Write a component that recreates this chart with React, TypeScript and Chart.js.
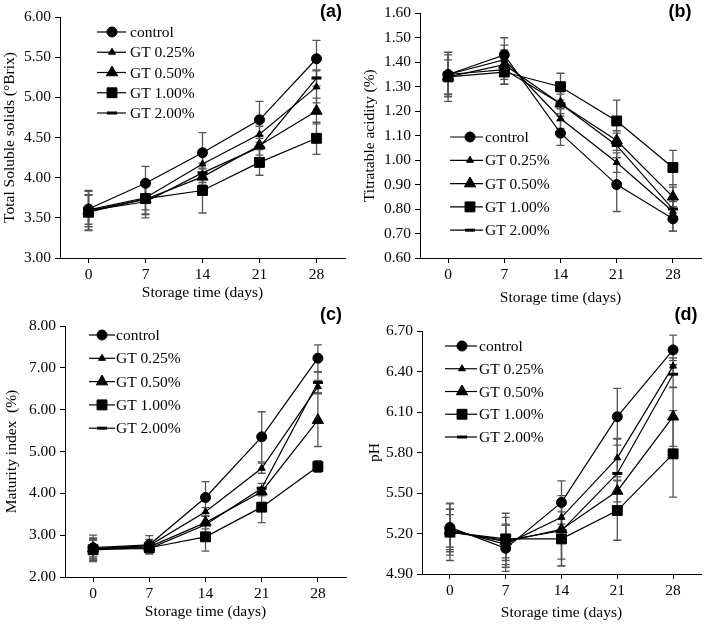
import React, { useEffect, useRef } from 'react';
import { Chart, registerables } from 'chart.js';
import { drawPoint } from 'chart.js/helpers';

Chart.register(...registerables);

// ---------- data ----------
const days = ['0', '7', '14', '21', '28'];
const seriesNames = ['control', 'GT 0.25%', 'GT 0.50%', 'GT 1.00%', 'GT 2.00%'];

// (a) Total soluble solids
const tssControl = [3.61, 3.93, 4.31, 4.72, 5.48];
const tssGT025 = [3.60, 3.75, 4.17, 4.54, 5.13];
const tssGT050 = [3.59, 3.73, 4.01, 4.40, 4.83];
const tssGT100 = [3.57, 3.74, 3.84, 4.19, 4.49];
const tssGT200 = [3.59, 3.70, 4.06, 4.38, 5.24];
const tssErrControl = [0.22, 0.21, 0.25, 0.23, 0.23];
const tssErrGT025 = [0.18, 0.15, 0.12, 0.10, 0.20];
const tssErrGT050 = [0.20, 0.18, 0.10, 0.12, 0.16];
const tssErrGT100 = [0.22, 0.20, 0.28, 0.16, 0.20];
const tssErrGT200 = [0.25, 0.20, 0.12, 0.14, 0.10];

// (b) Titratable acidity
const taControl = [1.35, 1.43, 1.11, 0.90, 0.76];
const taGT025 = [1.35, 1.41, 1.17, 0.99, 0.79];
const taGT050 = [1.34, 1.39, 1.23, 1.08, 0.85];
const taGT100 = [1.34, 1.36, 1.30, 1.16, 0.97];
const taGT200 = [1.35, 1.37, 1.23, 1.06, 0.80];
const taErrControl = [0.09, 0.07, 0.05, 0.11, 0.05];
const taErrGT025 = [0.08, 0.06, 0.04, 0.04, 0.04];
const taErrGT050 = [0.07, 0.06, 0.05, 0.04, 0.05];
const taErrGT100 = [0.10, 0.05, 0.055, 0.085, 0.07];
const taErrGT200 = [0.09, 0.06, 0.04, 0.05, 0.09];

// (c) Maturity index
const miControl = [2.70, 2.77, 3.90, 5.35, 7.23];
const miGT025 = [2.68, 2.75, 3.56, 4.60, 6.55];
const miGT050 = [2.68, 2.72, 3.30, 4.04, 5.75];
const miGT100 = [2.65, 2.70, 2.96, 3.67, 4.64];
const miGT200 = [2.67, 2.68, 3.25, 4.12, 6.65];
const miErrControl = [0.30, 0.22, 0.38, 0.60, 0.32];
const miErrGT025 = [0.25, 0.15, 0.10, 0.12, 0.15];
const miErrGT050 = [0.20, 0.12, 0.15, 0.10, 0.63];
const miErrGT100 = [0.28, 0.12, 0.34, 0.37, 0.14];
const miErrGT200 = [0.22, 0.10, 0.20, 0.12, 0.25];

// (d) pH
const phControl = [5.245, 5.09, 5.43, 6.065, 6.56];
const phGT025 = [5.23, 5.12, 5.32, 5.76, 6.44];
const phGT050 = [5.22, 5.14, 5.23, 5.515, 6.065];
const phGT100 = [5.21, 5.16, 5.16, 5.37, 5.79];
const phGT200 = [5.21, 5.15, 5.22, 5.645, 6.38];
const phErrControl = [0.18, 0.17, 0.16, 0.21, 0.11];
const phErrGT025 = [0.15, 0.15, 0.10, 0.14, 0.06];
const phErrGT050 = [0.12, 0.12, 0.22, 0.08, 0.22];
const phErrGT100 = [0.17, 0.16, 0.20, 0.22, 0.32];
const phErrGT200 = [0.21, 0.20, 0.26, 0.26, 0.10];

// ---------- styles ----------
const SERIF = '"Liberation Serif", "Times New Roman", serif';
const FONT = { family: SERIF, size: 15.5 };
const markers = [
  { pointStyle: 'circle', radius: 5, borderWidth: 1 },
  { pointStyle: 'triangle', radius: 4, borderWidth: 1 },
  { pointStyle: 'triangle', radius: 6.5, borderWidth: 1 },
  { pointStyle: 'rect', radius: 7, borderWidth: 1 },
  { pointStyle: 'line', radius: 5, borderWidth: 3 },
];

type PanelCfg = {
  x: number; y: number; w: number; h: number;
  yw: number; xh: number; pad: { top: number; right: number; bottom: number; left: number };
  xTitlePb: number; yTitlePt: number;
  yMin: number; yMax: number; step: number; yTitle: string;
  values: number[][]; errors: number[][];
  legend: { x0: number; x1: number; mx: number; tx: number; y0: number; dy: number };
  tag: { text: string; x: number; y: number };
};

const panels: PanelCfg[] = [
  {
    x: 0, y: 0, w: 354, h: 305, yw: 60, xh: 47, pad: { top: 17, right: 9, bottom: 0, left: 0 },
    xTitlePb: 3, yTitlePt: 1, yMin: 3, yMax: 6, step: 0.5, yTitle: 'Total Soluble solids (°Brix)',
    values: [tssControl, tssGT025, tssGT050, tssGT100, tssGT200],
    errors: [tssErrControl, tssErrGT025, tssErrGT050, tssErrGT100, tssErrGT200],
    legend: { x0: 97, x1: 126, mx: 112, tx: 130, y0: 32, dy: 20.25 },
    tag: { text: '(a)', x: 331, y: 12 },
  },
  {
    x: 354, y: 0, w: 355, h: 312, yw: 66, xh: 54, pad: { top: 12, right: 4, bottom: 0, left: 0 },
    xTitlePb: 4.7, yTitlePt: 6.7, yMin: 0.6, yMax: 1.6, step: 0.1, yTitle: 'Titratable acidity (%)',
    values: [taControl, taGT025, taGT050, taGT100, taGT200],
    errors: [taErrControl, taErrGT025, taErrGT050, taErrGT100, taErrGT200],
    legend: { x0: 96, x1: 129, mx: 116, tx: 131, y0: 137, dy: 23.3 },
    tag: { text: '(b)', x: 326, y: 12 },
  },
  {
    x: 0, y: 305, w: 354, h: 319, yw: 65, xh: 47, pad: { top: 21, right: 8, bottom: 0, left: 0 },
    xTitlePb: 2.7, yTitlePt: 2.7, yMin: 2, yMax: 8, step: 1, yTitle: 'Maturity index  (%)',
    values: [miControl, miGT025, miGT050, miGT100, miGT200],
    errors: [miErrControl, miErrGT025, miErrGT050, miErrGT100, miErrGT200],
    legend: { x0: 89, x1: 115, mx: 102, tx: 116, y0: 30, dy: 23.3 },
    tag: { text: '(c)', x: 331, y: 10 },
  },
  {
    x: 354, y: 305, w: 355, h: 319, yw: 68, xh: 50, pad: { top: 26, right: 4, bottom: 0, left: 0 },
    xTitlePb: 1.7, yTitlePt: 11.7, yMin: 4.9, yMax: 6.7, step: 0.3, yTitle: 'pH',
    values: [phControl, phGT025, phGT050, phGT100, phGT200],
    errors: [phErrControl, phErrGT025, phErrGT050, phErrGT100, phErrGT200],
    legend: { x0: 91, x1: 123, mx: 108, tx: 125, y0: 41, dy: 22.75 },
    tag: { text: '(d)', x: 332, y: 10 },
  },
];

function Panel({ cfg }: { cfg: PanelCfg }) {
  const ref = useRef<HTMLCanvasElement>(null);
  useEffect(() => {
    if (!ref.current) return;
    const errorBars = {
      id: 'errorBars',
      beforeDatasetsDraw(chart: any) {
        const ctx = chart.ctx;
        const xs = chart.scales.x;
        const ys = chart.scales.y;
        ctx.save();
        ctx.strokeStyle = '#555';
        ctx.lineWidth = 1.3;
        cfg.values.forEach((vals, i) => {
          vals.forEach((v, j) => {
            const e = cfg.errors[i][j];
            const px = xs.getPixelForValue(j);
            const top = ys.getPixelForValue(v + e);
            const bot = ys.getPixelForValue(v - e);
            ctx.beginPath();
            ctx.moveTo(px, top); ctx.lineTo(px, bot);
            ctx.moveTo(px - 4, top); ctx.lineTo(px + 4, top);
            ctx.moveTo(px - 4, bot); ctx.lineTo(px + 4, bot);
            ctx.stroke();
          });
        });
        ctx.restore();
      },
    };
    const overlay = {
      id: 'overlay',
      afterDraw(chart: any) {
        const ctx = chart.ctx;
        ctx.save();
        const L = cfg.legend;
        seriesNames.forEach((name, i) => {
          const yy = L.y0 + i * L.dy;
          ctx.strokeStyle = '#000';
          ctx.fillStyle = '#000';
          ctx.lineWidth = 1.2;
          ctx.beginPath();
          ctx.moveTo(L.x0, yy); ctx.lineTo(L.x1, yy);
          ctx.stroke();
          const m = markers[i];
          ctx.lineWidth = m.borderWidth;
          drawPoint(ctx, { pointStyle: m.pointStyle as any, radius: m.radius, rotation: 0, borderWidth: m.borderWidth }, L.mx, yy);
          ctx.font = `15.5px ${SERIF}`;
          ctx.textAlign = 'left';
          ctx.textBaseline = 'middle';
          ctx.fillText(name, L.tx, yy + 1);
        });
        ctx.font = `bold 18px "Liberation Sans", Arial, sans-serif`;
        ctx.textAlign = 'center';
        ctx.textBaseline = 'middle';
        ctx.fillText(cfg.tag.text, cfg.tag.x, cfg.tag.y);
        ctx.restore();
      },
    };
    const chart = new Chart(ref.current, {
      type: 'line',
      data: {
        labels: days,
        datasets: cfg.values.map((vals, i) => ({
          label: seriesNames[i],
          data: vals,
          borderColor: '#000',
          backgroundColor: '#000',
          borderWidth: 1.2,
          pointStyle: markers[i].pointStyle as any,
          pointRadius: markers[i].radius,
          pointBorderWidth: markers[i].borderWidth,
          pointBackgroundColor: '#000',
          pointBorderColor: '#000',
          tension: 0,
          fill: false,
        })),
      },
      options: {
        responsive: false,
        animation: false,
        events: [],
        layout: { padding: cfg.pad },
        plugins: { legend: { display: false }, tooltip: { enabled: false } },
        scales: {
          x: {
            type: 'category',
            offset: true,
            grid: { display: true, drawOnChartArea: false, drawTicks: true, tickLength: 5, color: '#000', offset: false },
            border: { display: true, color: '#000', width: 1 },
            ticks: { font: FONT, color: '#000', padding: 3, maxRotation: 0 },
            title: { display: true, text: 'Storage time (days)', font: FONT, color: '#000', padding: { top: 0, bottom: cfg.xTitlePb } },
            afterFit: (s: any) => { s.height = cfg.xh; },
          },
          y: {
            min: cfg.yMin,
            max: cfg.yMax,
            grid: { display: true, drawOnChartArea: false, drawTicks: true, tickLength: 5, color: '#000' },
            border: { display: true, color: '#000', width: 1 },
            ticks: {
              stepSize: cfg.step,
              font: FONT,
              color: '#000',
              padding: 4,
              callback: (v: any) => Number(v).toFixed(2),
            },
            title: { display: true, text: cfg.yTitle, font: FONT, color: '#000', padding: { top: cfg.yTitlePt, bottom: 0 } },
            afterFit: (s: any) => { s.width = cfg.yw; },
          },
        },
      },
      plugins: [errorBars, overlay],
    } as any);
    return () => chart.destroy();
  }, [cfg]);
  return (
    <canvas
      ref={ref}
      width={cfg.w}
      height={cfg.h}
      style={{ position: 'absolute', left: cfg.x, top: cfg.y, width: cfg.w, height: cfg.h }}
    />
  );
}

export default function App() {
  return (
    <div style={{ position: 'absolute', left: 0, top: 0, width: 709, height: 624, background: '#fff' }}>
      {panels.map((p, i) => (
        <Panel key={i} cfg={p} />
      ))}
    </div>
  );
}
